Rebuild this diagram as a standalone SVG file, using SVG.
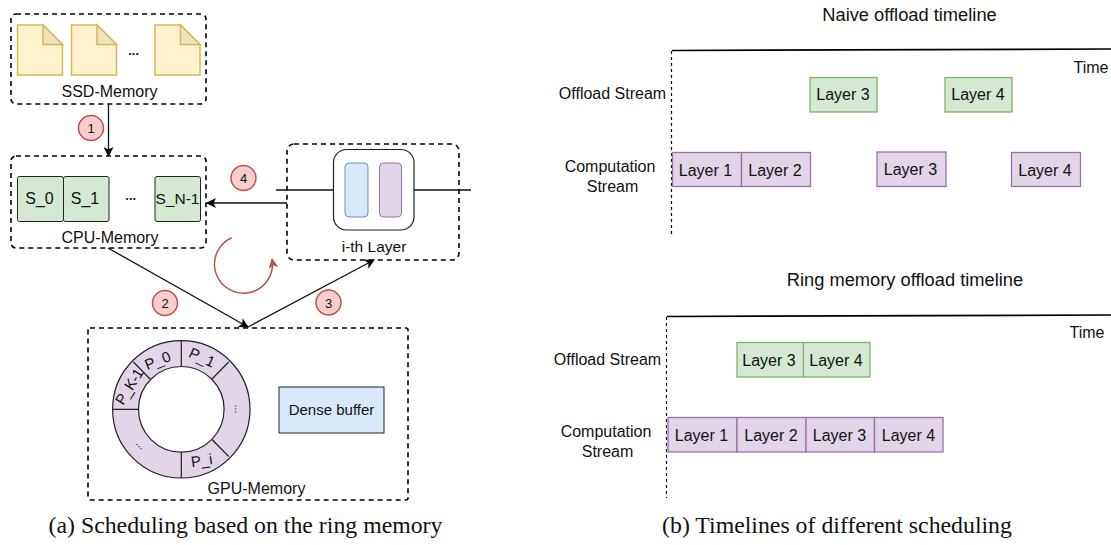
<svg xmlns="http://www.w3.org/2000/svg" width="1111" height="545" viewBox="0 0 1111 545">
<defs>
<style>
text{font-family:"Liberation Sans",Arial,sans-serif;font-size:16px;fill:#111;text-anchor:middle}
.cap{font-family:"Liberation Serif","Times New Roman",serif;font-size:23.8px;fill:#111}
.title{font-size:18.3px}
.dash{fill:none;stroke:#000;stroke-width:1.6;stroke-dasharray:5 4}
.doc{fill:#fff2cc;stroke:#d6b656;stroke-width:1.5}
.fold{fill:#efe3c0;stroke:#d6b656;stroke-width:1.5}
.s{fill:#d5e8d4;stroke:#222;stroke-width:1}
.num{fill:#f8cecc;stroke:#b85450;stroke-width:1.5}
.bn{font-size:13px}
.g{fill:#d5e8d4;stroke:#82b366;stroke-width:1.3}
.p{fill:#e1d5e7;stroke:#9673a6;stroke-width:1.3}
.ln{fill:none;stroke:#111;stroke-width:1.3}
.axis{fill:none;stroke:#000;stroke-width:1.7}
.vd{fill:none;stroke:#000;stroke-width:1.2;stroke-dasharray:3 3}
.rl{font-size:15px}
</style>
<marker id="a" viewBox="0 0 10 10" refX="9" refY="5" markerWidth="10" markerHeight="10" markerUnits="userSpaceOnUse" orient="auto"><path d="M0 0L10 5L0 10L2.500 5Z" fill="#000"/></marker>
<marker id="r" viewBox="0 0 10 10" refX="9" refY="5" markerWidth="10" markerHeight="10" markerUnits="userSpaceOnUse" orient="auto"><path d="M0 0L10 5L0 10L2.500 5Z" fill="#b85450"/></marker>
</defs>
<rect width="1111" height="545" fill="#fff"/>
<g id="connectors">
<path class="ln" d="M108.500 104V156" marker-end="url(#a)"/>
<path class="ln" d="M287 203H207" marker-end="url(#a)"/>
<path class="ln" d="M108 248L248 327" marker-end="url(#a)"/>
<path class="ln" d="M248 327L374 260" marker-end="url(#a)"/>
<path d="M231.700 237.700A29 29 0 1 0 272 259" fill="none" stroke="#b85450" stroke-width="1.5" marker-end="url(#r)"/>
</g>
<g id="ssd-memory">
<rect class="dash" x="11" y="14" width="195" height="90" rx="5"/>
<path class="doc" d="M17.500 25H43L62.500 44.500V75H17.500Z"/><path class="fold" d="M43 25L62.500 44.500H43Z"/>
<path class="doc" d="M71.500 25H97L116.500 44.500V75H71.500Z"/><path class="fold" d="M97 25L116.500 44.500H97Z"/>
<path class="doc" d="M155 25H180.500L200 44.500V75H155Z"/><path class="fold" d="M180.500 25L200 44.500H180.500Z"/>
<text x="133.600" y="55" font-weight="bold" style="font-size:13px">...</text>
<text x="109.500" y="97">SSD-Memory</text>
</g>
<g id="cpu-memory">
<rect class="dash" x="11" y="156" width="195" height="92" rx="5"/>
<rect class="s" x="17.500" y="176.500" width="46" height="45" rx="2"/>
<rect class="s" x="63.500" y="176.500" width="45.500" height="45" rx="2"/>
<rect class="s" x="155" y="176.500" width="45.500" height="45" rx="2"/>
<text x="39.500" y="204">S_0</text><text x="85" y="204">S_1</text><text x="130.700" y="200" font-weight="bold" style="font-size:13px">...</text><text x="177.500" y="204" style="font-size:15.500px">S_N-1</text>
<text x="110" y="243">CPU-Memory</text>
</g>
<g id="layer">
<rect class="dash" x="287" y="144" width="172" height="116" rx="7"/>
<path class="ln" d="M276 190H333.500M414 190H471"/>
<rect x="333.500" y="149.500" width="80.500" height="80.500" rx="13" fill="#fff" stroke="#222" stroke-width="1.2"/>
<rect x="345" y="163" width="23" height="54" rx="4" fill="#dae8fc" stroke="#6c8ebf" stroke-width="1"/>
<rect x="379.500" y="163" width="22" height="54" rx="4" fill="#e1d5e7" stroke="#9673a6" stroke-width="1"/>
<text x="374" y="252" style="font-size:15.500px">i-th Layer</text>
</g>
<g id="gpu-memory">
<rect class="dash" x="88" y="328" width="320" height="172" rx="2"/>
<circle cx="181.300" cy="409.300" r="55.700" fill="none" stroke="#e1d5e7" stroke-width="26"/>
<circle cx="181.300" cy="409.300" r="68.700" fill="none" stroke="#222" stroke-width="1.200"/>
<circle cx="181.300" cy="409.300" r="42.800" fill="#fff" stroke="#222" stroke-width="1.200"/>
<path fill="none" stroke="#222" stroke-width="1.200" d="M181.300 340.600V366.500M181.300 452.100V478M228.700 362L212 379M212 439.500L228.700 456.500M133.500 362L150 379M112.600 409.300H138.500"/>
<text class="rl" transform="translate(157.700 360.700) rotate(-22)" y="5">P_0</text>
<text class="rl" transform="translate(202 357.700) rotate(25)" y="5">P_1</text>
<text class="rl" transform="translate(129.300 386.700) rotate(-58)" y="5" letter-spacing="-0.500">P_K-1</text>
<text class="rl" transform="translate(201.700 460.700) rotate(-8)" y="5">P_i</text>
<text transform="translate(235 409) rotate(90)" style="font-size:11px">...</text>
<text transform="translate(138.500 447) rotate(45)" style="font-size:11px">...</text>
<rect x="279" y="387" width="105" height="46" fill="#dae8fc" stroke="#222" stroke-width="1"/>
<text x="331.500" y="414.500" style="font-size:15px">Dense buffer</text>
<text x="256.500" y="494.300">GPU-Memory</text>
</g>
<g id="badge-1"><circle class="num" cx="91" cy="128" r="12.500"/><text class="bn" x="91" y="133">1</text></g>
<g id="badge-4"><circle class="num" cx="243.500" cy="178" r="12.500"/><text class="bn" x="243.500" y="183">4</text></g>
<g id="badge-2"><circle class="num" cx="165" cy="303" r="12.500"/><text class="bn" x="165" y="308">2</text></g>
<g id="badge-3"><circle class="num" cx="328.500" cy="302.500" r="12.500"/><text class="bn" x="328.500" y="307.500">3</text></g>
<g id="naive-timeline">
<text class="title" x="909.500" y="21">Naive offload timeline</text>
<path class="axis" d="M672 50.500L1111 49"/>
<path class="vd" d="M671.500 51V234"/>
<text x="1091" y="72.500">Time</text>
<text x="612.500" y="99">Offload Stream</text>
<text x="610" y="171.500">Computation</text><text x="612.500" y="191.500">Stream</text>
<g id="n-o3"><rect class="g" x="810" y="77.500" width="67" height="34.500"/><text x="843" y="100">Layer 3</text></g>
<g id="n-o4"><rect class="g" x="945" y="77.500" width="67" height="34.500"/><text x="978" y="100">Layer 4</text></g>
<g id="n-c1"><rect class="p" x="672.500" y="152.500" width="69" height="34"/><text x="705.500" y="175.500">Layer 1</text></g>
<g id="n-c2"><rect class="p" x="741.500" y="152.500" width="69" height="34"/><text x="775" y="175.500">Layer 2</text></g>
<g id="n-c3"><rect class="p" x="877" y="152" width="69" height="34.500"/><text x="910.500" y="174.500">Layer 3</text></g>
<g id="n-c4"><rect class="p" x="1011.500" y="152.500" width="69" height="34"/><text x="1045" y="175.500">Layer 4</text></g>
</g>
<g id="ring-timeline">
<text class="title" x="905" y="286">Ring memory offload timeline</text>
<path class="axis" d="M667 316.500L1111 315"/>
<path class="vd" d="M666.500 317V498"/>
<text x="1087" y="337.500">Time</text>
<text x="607.500" y="365">Offload Stream</text>
<text x="606" y="436.500">Computation</text><text x="607.500" y="456.500">Stream</text>
<g id="r-o3"><rect class="g" x="737" y="342.500" width="66.500" height="34.500"/><text x="769" y="365.500">Layer 3</text></g>
<g id="r-o4"><rect class="g" x="803.500" y="342.500" width="66.500" height="34.500"/><text x="836" y="365.500">Layer 4</text></g>
<g id="r-c1"><rect class="p" x="668" y="417.500" width="69" height="34.500"/><text x="701.500" y="440.500">Layer 1</text></g>
<g id="r-c2"><rect class="p" x="737" y="417.500" width="69" height="34.500"/><text x="771" y="440.500">Layer 2</text></g>
<g id="r-c3"><rect class="p" x="806" y="417.500" width="68.500" height="34.500"/><text x="839.500" y="440.500">Layer 3</text></g>
<g id="r-c4"><rect class="p" x="874.500" y="417.500" width="68.500" height="34.500"/><text x="908.500" y="440.500">Layer 4</text></g>
</g>
<text class="cap" x="245.500" y="533">(a) Scheduling based on the ring memory</text>
<text class="cap" x="837" y="533">(b) Timelines of different scheduling</text>
</svg>
